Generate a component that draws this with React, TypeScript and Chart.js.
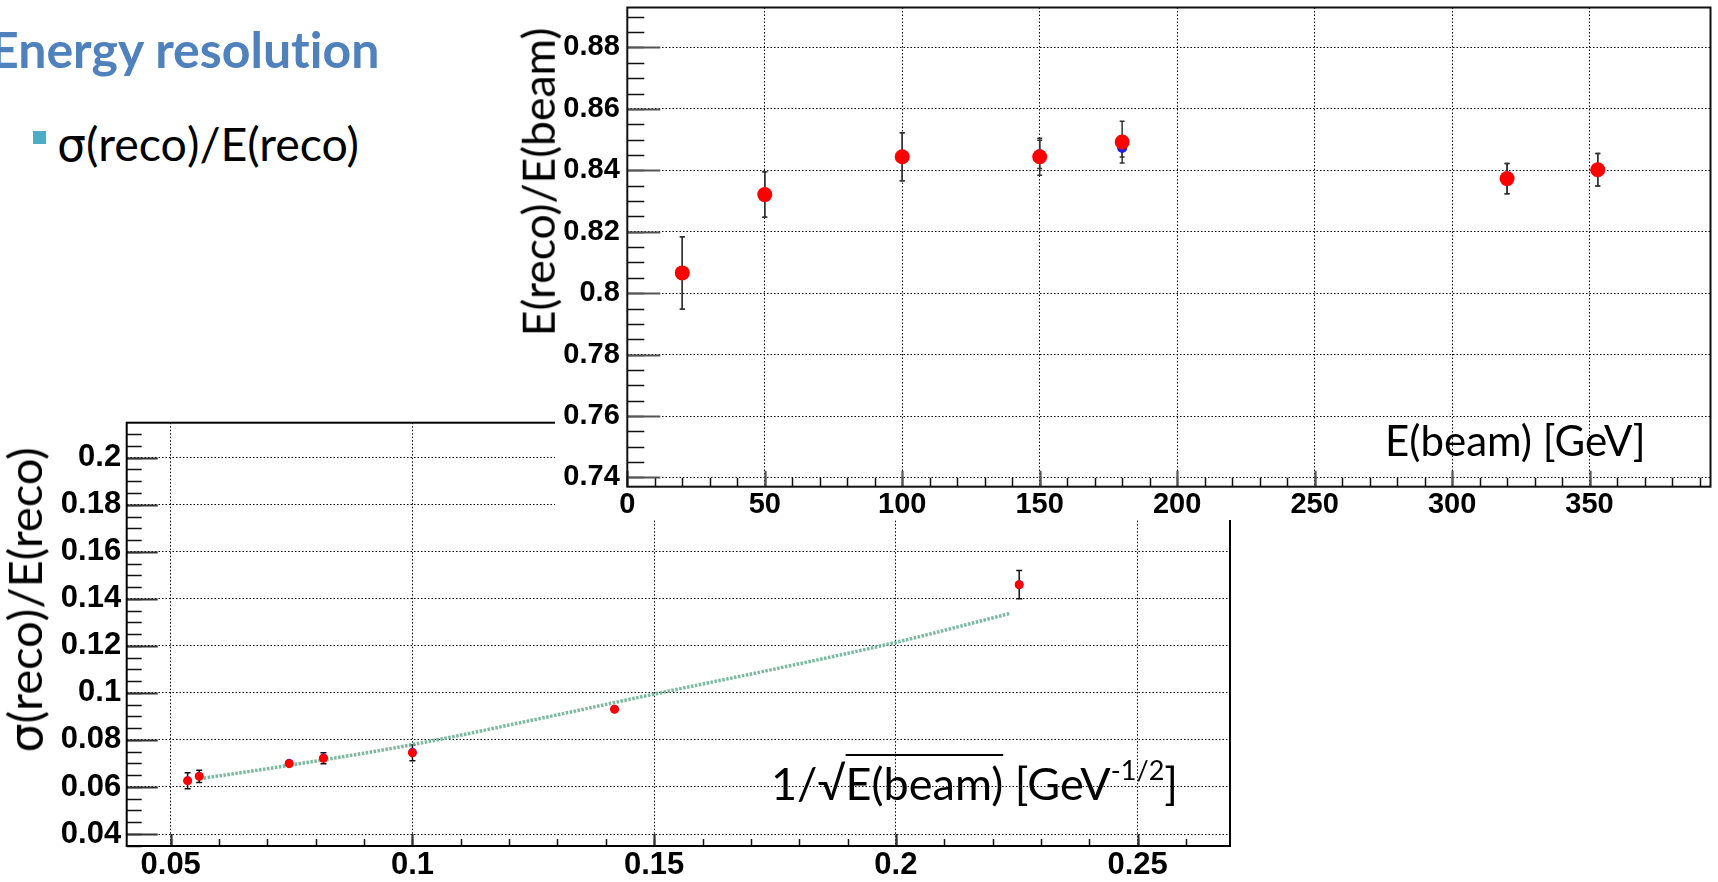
import React, { useEffect, useRef } from "react";
import { Chart, registerables } from "chart.js";

Chart.register(...registerables);

// ---------- Top chart: E(reco)/E(beam) vs E(beam) ----------
const BEAM_ENERGY = [20, 50, 100, 150, 180, 320, 353];
const RESPONSE_RED = [0.8066, 0.8321, 0.8444, 0.8444, 0.8492, 0.8373, 0.8402];
const RESPONSE_RED_ERR = [0.0118, 0.0074, 0.0078, 0.006, 0.0068, 0.0049, 0.0053];
const RESPONSE_BLUE = [0.8066, 0.8321, 0.8444, 0.8452, 0.8473, 0.8373, 0.8402];
const RESPONSE_BLUE_ERR = [0.0118, 0.0074, 0.0078, 0.0046, 0.003, 0.0049, 0.0053];

const TOP_X_TICKS = [0, 50, 100, 150, 200, 250, 300, 350];
const TOP_X_LABELS = ["0", "50", "100", "150", "200", "250", "300", "350"];
const TOP_Y_TICKS = [0.74, 0.76, 0.78, 0.8, 0.82, 0.84, 0.86, 0.88];
const TOP_Y_LABELS = ["0.74", "0.76", "0.78", "0.8", "0.82", "0.84", "0.86", "0.88"];
const TOP_X_RANGE = [0, 394];
const TOP_Y_RANGE = [0.737, 0.893];

// ---------- Bottom chart: sigma(reco)/E(reco) vs 1/sqrt(E(beam)) ----------
const INV_SQRT_E = [0.0535, 0.0559, 0.0745, 0.0816, 0.1, 0.1418, 0.2255];
const RESOLUTION_RED = [0.0626, 0.0645, 0.0699, 0.0722, 0.0745, 0.093, 0.146];
const RESOLUTION_RED_ERR = [0.0034, 0.0026, 0.001, 0.0023, 0.0033, 0.0008, 0.006];
const RESOLUTION_BLUE = [0.0628, 0.0647, 0.0702, 0.0724, 0.0749, 0.0931, 0.1461];
const FIT_X = [0.056, 0.0745, 0.1, 0.125, 0.15, 0.175, 0.2, 0.2236];
const FIT_Y = [0.0635, 0.0692, 0.078, 0.0885, 0.0995, 0.1102, 0.1215, 0.1338];

const BOT_X_TICKS = [0.05, 0.1, 0.15, 0.2, 0.25];
const BOT_X_LABELS = ["0.05", "0.1", "0.15", "0.2", "0.25"];
const BOT_Y_TICKS = [0.04, 0.06, 0.08, 0.1, 0.12, 0.14, 0.16, 0.18, 0.2];
const BOT_Y_LABELS = ["0.04", "0.06", "0.08", "0.1", "0.12", "0.14", "0.16", "0.18", "0.2"];
const BOT_X_RANGE = [0.0409, 0.2691];
const BOT_Y_RANGE = [0.0349, 0.2149];

type ErrSet = { x: number[]; y: number[]; err: number[]; cap: number; color: string; width: number };

function errorBarPlugin(sets: ErrSet[]) {
  return {
    id: "errorBars",
    beforeDatasetsDraw(chart: any) {
      const { ctx, chartArea: a, scales } = chart;
      const xs = scales.x;
      const ys = scales.y;
      ctx.save();
      ctx.beginPath();
      ctx.rect(a.left, a.top, a.right - a.left, a.bottom - a.top);
      ctx.clip();
      for (const s of sets) {
        ctx.strokeStyle = s.color;
        ctx.lineWidth = s.width;
        s.x.forEach((xv, i) => {
          const px = xs.getPixelForValue(xv);
          const y1 = ys.getPixelForValue(s.y[i] - s.err[i]);
          const y2 = ys.getPixelForValue(s.y[i] + s.err[i]);
          ctx.beginPath();
          ctx.moveTo(px, y1);
          ctx.lineTo(px, y2);
          ctx.moveTo(px - s.cap, y1);
          ctx.lineTo(px + s.cap, y1);
          ctx.moveTo(px - s.cap, y2);
          ctx.lineTo(px + s.cap, y2);
          ctx.stroke();
        });
      }
      ctx.restore();
    },
  };
}

type AxisCfg = {
  xMajor: number; xMinor: number; xMajorLen: number; xMinorLen: number;
  yMajor: number; yMinor: number; yMajorLen: number; yMinorLen: number;
  majorColor: string; frameColor: string; frameWidth: number;
};

function steps(min: number, max: number, step: number) {
  const out: number[] = [];
  const s = Math.ceil(min / step - 1e-6);
  const e = Math.floor(max / step + 1e-6);
  for (let k = s; k <= e; k++) out.push(k * step);
  return out;
}

function rootAxesPlugin(c: AxisCfg) {
  return {
    id: "rootAxes",
    beforeDatasetsDraw(chart: any) {
      const { ctx, chartArea: a, scales } = chart;
      const xs = scales.x;
      const ys = scales.y;
      ctx.save();
      ctx.strokeStyle = "#111";
      ctx.lineWidth = 1.5;
      ctx.beginPath();
      for (const v of steps(ys.min, ys.max, c.yMinor)) {
        const py = Math.round(ys.getPixelForValue(v)) + 0.5;
        ctx.moveTo(a.left, py);
        ctx.lineTo(a.left + c.yMinorLen, py);
      }
      for (const v of steps(xs.min, xs.max, c.xMinor)) {
        const px = Math.round(xs.getPixelForValue(v)) + 0.5;
        ctx.moveTo(px, a.bottom);
        ctx.lineTo(px, a.bottom - c.xMinorLen);
      }
      ctx.stroke();
      ctx.strokeStyle = c.majorColor;
      ctx.lineWidth = 2.2;
      ctx.beginPath();
      for (const v of steps(ys.min, ys.max, c.yMajor)) {
        const py = Math.round(ys.getPixelForValue(v)) + 0.5;
        ctx.moveTo(a.left, py);
        ctx.lineTo(a.left + c.yMajorLen, py);
      }
      for (const v of steps(xs.min, xs.max, c.xMajor)) {
        const px = Math.round(xs.getPixelForValue(v)) + 0.5;
        ctx.moveTo(px, a.bottom);
        ctx.lineTo(px, a.bottom - c.xMajorLen);
      }
      ctx.stroke();
      ctx.restore();
    },
    afterDatasetsDraw(chart: any) {
      const { ctx, chartArea: a } = chart;
      ctx.save();
      ctx.strokeStyle = c.frameColor;
      ctx.lineWidth = c.frameWidth;
      ctx.strokeRect(a.left, a.top, a.right - a.left, a.bottom - a.top);
      ctx.restore();
    },
  };
}

function scaleOpts(
  range: number[], ticks: number[], labels: string[], fontSize: number,
  padding: number, fitSize: number, horizontal: boolean
) {
  return {
    type: "linear",
    min: range[0],
    max: range[1],
    afterBuildTicks: (scale: any) => {
      scale.ticks = ticks.map((v) => ({ value: v }));
    },
    afterFit: (scale: any) => {
      if (horizontal) scale.height = fitSize;
      else scale.width = fitSize;
      scale.paddingTop = 0;
      scale.paddingBottom = 0;
      scale.paddingLeft = 0;
      scale.paddingRight = 0;
    },
    ticks: {
      autoSkip: false,
      maxRotation: 0,
      minRotation: 0,
      padding,
      color: "#000",
      font: { family: "'Liberation Sans', Arial, sans-serif", weight: "bold", size: fontSize },
      callback: (_v: any, i: number) => labels[i],
    },
    grid: { color: "#000", lineWidth: 1, drawTicks: false },
    border: { display: false, dash: [1.5, 2] },
  };
}

function TopChart() {
  const ref = useRef<HTMLCanvasElement>(null);
  useEffect(() => {
    const chart = new Chart(ref.current as HTMLCanvasElement, {
      type: "scatter",
      data: {
        datasets: [
          {
            data: BEAM_ENERGY.map((x, i) => ({ x, y: RESPONSE_RED[i] })),
            backgroundColor: "#ff0000",
            borderWidth: 0,
            pointRadius: 7.5,
          },
          {
            data: BEAM_ENERGY.map((x, i) => ({ x, y: RESPONSE_BLUE[i] })),
            backgroundColor: "#2020e0",
            borderWidth: 0,
            pointRadius: 5,
          },
        ],
      },
      options: {
        responsive: false,
        animation: false,
        devicePixelRatio: 1,
        events: [],
        layout: { padding: { left: 0, top: 4.5, right: 2.5, bottom: 3.3 } },
        plugins: { legend: { display: false }, tooltip: { enabled: false } },
        scales: {
          x: scaleOpts(TOP_X_RANGE, TOP_X_TICKS, TOP_X_LABELS, 29, 0.5, 30, true),
          y: scaleOpts(TOP_Y_RANGE, TOP_Y_TICKS, TOP_Y_LABELS, 29, 7.5, 72.3, false),
        },
      } as any,
      plugins: [
        errorBarPlugin([
          { x: BEAM_ENERGY, y: RESPONSE_BLUE, err: RESPONSE_BLUE_ERR, cap: 2.5, color: "#333", width: 1.5 },
          { x: BEAM_ENERGY, y: RESPONSE_RED, err: RESPONSE_RED_ERR, cap: 2.5, color: "#333", width: 1.5 },
        ]),
        rootAxesPlugin({
          xMajor: 50, xMinor: 10, xMajorLen: 16, xMinorLen: 9,
          yMajor: 0.02, yMinor: 0.005, yMajorLen: 33, yMinorLen: 17,
          majorColor: "#555", frameColor: "#111", frameWidth: 2,
        }),
      ] as any,
    });
    return () => chart.destroy();
  }, []);
  return (
    <canvas
      ref={ref}
      width={1163}
      height={520}
      style={{ position: "absolute", left: 555, top: 0, background: "#fff" }}
    />
  );
}

function BottomChart() {
  const ref = useRef<HTMLCanvasElement>(null);
  useEffect(() => {
    const chart = new Chart(ref.current as HTMLCanvasElement, {
      type: "scatter",
      data: {
        datasets: [
          {
            data: INV_SQRT_E.map((x, i) => ({ x, y: RESOLUTION_RED[i] })),
            backgroundColor: "#ff0000",
            borderWidth: 0,
            pointRadius: 4.5,
          },
          {
            data: INV_SQRT_E.map((x, i) => ({ x, y: RESOLUTION_BLUE[i] })),
            backgroundColor: "#3030e0",
            borderWidth: 0,
            pointRadius: 4.2,
          },
          {
            data: FIT_X.map((x, i) => ({ x, y: FIT_Y[i] })),
            showLine: true,
            pointRadius: 0,
            borderColor: "rgba(105,178,150,0.9)",
            borderWidth: 3.5,
            borderDash: [2.5, 1.5],
            cubicInterpolationMode: "monotone",
            fill: false,
          },
        ],
      },
      options: {
        responsive: false,
        animation: false,
        devicePixelRatio: 1,
        events: [],
        layout: { padding: { left: 0, top: 22.7, right: 10, bottom: 6 } },
        plugins: { legend: { display: false }, tooltip: { enabled: false } },
        scales: {
          x: scaleOpts(BOT_X_RANGE, BOT_X_TICKS, BOT_X_LABELS, 31, 0.5, 30, true),
          y: scaleOpts(BOT_Y_RANGE, BOT_Y_TICKS, BOT_Y_LABELS, 31, 5.5, 126.7, false),
        },
      } as any,
      plugins: [
        errorBarPlugin([
          { x: INV_SQRT_E, y: RESOLUTION_RED, err: RESOLUTION_RED_ERR, cap: 3, color: "#111", width: 1.5 },
        ]),
        rootAxesPlugin({
          xMajor: 0.05, xMinor: 0.01, xMajorLen: 12, xMinorLen: 7,
          yMajor: 0.02, yMinor: 0.005, yMajorLen: 31, yMinorLen: 15,
          majorColor: "#333", frameColor: "#000", frameWidth: 2,
        }),
      ] as any,
    });
    return () => chart.destroy();
  }, []);
  return (
    <canvas
      ref={ref}
      width={1240}
      height={482}
      style={{ position: "absolute", left: 0, top: 400 }}
    />
  );
}

const SLIDE_FONT = "Lato, 'Noto Sans', 'DejaVu Sans', sans-serif";
const SIGMA_FONT = "'DejaVu Sans', 'Noto Sans', sans-serif";

function Sigma() {
  return <span style={{ fontFamily: SIGMA_FONT, fontSize: "0.98em" }}>σ</span>;
}

function Rotated({ children, cx, cy, size }: { children: any; cx: number; cy: number; size: number }) {
  return (
    <div
      style={{
        position: "absolute",
        left: cx,
        top: cy,
        transform: "translate(-50%, -50%) rotate(-90deg)",
        fontFamily: SLIDE_FONT,
        fontSize: size,
        lineHeight: 1,
        whiteSpace: "nowrap",
        color: "#000",
        fontVariantLigatures: "none",
      }}
    >
      {children}
    </div>
  );
}

export default function App() {
  return (
    <div
      style={{
        position: "absolute",
        left: 0,
        top: 0,
        width: 1718,
        height: 882,
        overflow: "hidden",
        background: "#fff",
      }}
    >
      <BottomChart />
      <TopChart />
      <div
        style={{
          position: "absolute",
          left: -10,
          top: 24,
          fontFamily: SLIDE_FONT,
          fontWeight: "bold",
          fontSize: 50,
          lineHeight: 1,
          color: "#4f81bd",
          whiteSpace: "nowrap",
          fontVariantLigatures: "none",
        }}
      >
        Energy resolution
      </div>
      <div style={{ position: "absolute", left: 33, top: 131, width: 13, height: 13, background: "#4bacc6" }} />
      <div
        style={{
          position: "absolute",
          left: 57,
          top: 120,
          fontFamily: SLIDE_FONT,
          fontSize: 46.5,
          lineHeight: 1,
          color: "#000",
          whiteSpace: "nowrap",
        }}
      >
        <Sigma />(reco)/E(reco)
      </div>
      <Rotated cx={537.5} cy={182} size={44.5}>E(reco)/E(beam)</Rotated>
      <Rotated cx={25} cy={600} size={47}>
        <Sigma />(reco)/E(reco)
      </Rotated>
      <div
        style={{
          position: "absolute",
          left: 1385,
          top: 419,
          fontFamily: SLIDE_FONT,
          fontSize: 42,
          lineHeight: 1,
          color: "#000",
          whiteSpace: "nowrap",
        }}
      >
        E(beam) [GeV]
      </div>
      <div
        style={{
          position: "absolute",
          left: 771,
          top: 761,
          fontFamily: SLIDE_FONT,
          fontSize: 45,
          lineHeight: 1,
          color: "#000",
          whiteSpace: "nowrap",
        }}
      >
        1/√
        <span style={{ textDecoration: "overline", textDecorationThickness: "2px" }}>E(beam)</span>
        {" [GeV"}
        <sup style={{ fontSize: "0.6em", verticalAlign: "0.75em", lineHeight: 0 }}>-1/2</sup>]
      </div>
    </div>
  );
}
